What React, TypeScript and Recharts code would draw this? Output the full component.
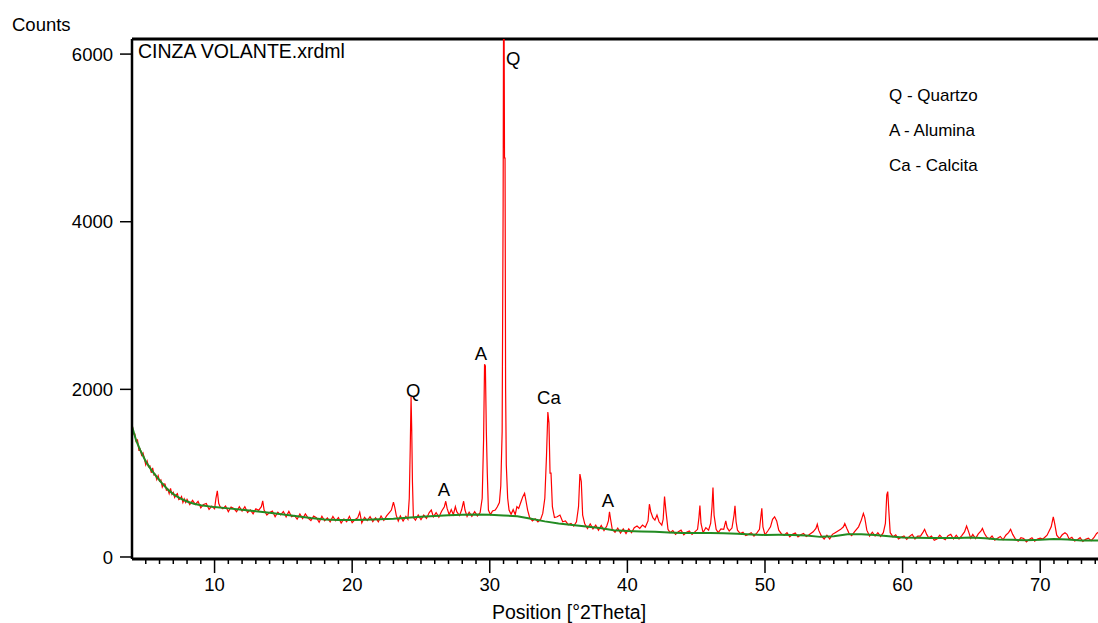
import React from 'react';
import { LineChart, Line, XAxis, YAxis, ReferenceLine, ReferenceDot } from 'recharts';

const FONT = '"Liberation Sans", Arial, sans-serif';

// measured scan, [°2Theta, counts]
const observedScan: [number, number][] = [
    [4.0, 1600], [4.1, 1470], [4.2, 1470], [4.3, 1380], [4.4, 1395], [4.5, 1275], [4.6, 1285], [4.7, 1215],
    [4.8, 1240], [4.9, 1175], [5.0, 1100], [5.1, 1145], [5.2, 1075], [5.3, 1085], [5.4, 1005], [5.5, 1063],
    [5.6, 977], [5.7, 986], [5.8, 925], [5.9, 970], [6.0, 905], [6.1, 920], [6.2, 835], [6.3, 872],
    [6.4, 870], [6.5, 797], [6.6, 810], [6.7, 756], [6.8, 817], [6.9, 748], [7.0, 770], [7.1, 710],
    [7.2, 740], [7.3, 755], [7.4, 685], [7.5, 695], [7.6, 722], [7.7, 650], [7.8, 692], [7.9, 650],
    [8.0, 687], [8.2, 625], [8.4, 675], [8.6, 627], [8.8, 665], [9.0, 587], [9.2, 627], [9.4, 638],
    [9.6, 568], [9.8, 608], [10.0, 575], [10.1, 700], [10.2, 790], [10.3, 640], [10.4, 600], [10.6, 576],
    [10.8, 608], [11.0, 540], [11.2, 597], [11.4, 578], [11.6, 540], [11.8, 601], [12.0, 548], [12.2, 599],
    [12.4, 531], [12.6, 562], [12.8, 514], [13.0, 575], [13.2, 556], [13.4, 600], [13.5, 670], [13.6, 560],
    [13.8, 501], [14.0, 532], [14.2, 548], [14.4, 479], [14.6, 535], [14.8, 502], [15.0, 543], [15.2, 479],
    [15.4, 544], [15.6, 480], [15.8, 495], [16.0, 451], [16.2, 512], [16.4, 458], [16.6, 513], [16.8, 464],
    [17.0, 435], [17.2, 487], [17.4, 468], [17.6, 415], [17.8, 486], [18.0, 433], [18.2, 466], [18.4, 420],
    [18.6, 483], [18.8, 432], [19.0, 470], [19.2, 405], [19.4, 455], [19.6, 420], [19.8, 485], [20.0, 410],
    [20.2, 446], [20.4, 467], [20.55, 535], [20.7, 408], [20.9, 474], [21.1, 435], [21.3, 481], [21.5, 422],
    [21.7, 468], [21.9, 419], [22.1, 490], [22.3, 436], [22.5, 490], [22.7, 530], [22.85, 560], [23.0, 655],
    [23.1, 590], [23.2, 500], [23.35, 430], [23.5, 490], [23.7, 430], [23.9, 485], [24.05, 450], [24.15, 700],
    [24.22, 1300], [24.28, 1910], [24.33, 1500], [24.38, 900], [24.45, 470], [24.6, 440], [24.8, 500], [25.0, 445],
    [25.2, 500], [25.4, 460], [25.6, 530], [25.75, 560], [25.9, 480], [26.1, 530], [26.3, 475], [26.5, 545],
    [26.7, 600], [26.8, 665], [26.9, 580], [27.05, 505], [27.2, 565], [27.35, 505], [27.5, 600], [27.6, 540],
    [27.8, 495], [27.95, 560], [28.1, 665], [28.2, 560], [28.35, 485], [28.5, 535], [28.7, 485], [28.9, 540],
    [29.1, 490], [29.3, 530], [29.45, 700], [29.55, 1400], [29.62, 2300], [29.68, 2280], [29.75, 1500], [29.82, 1000],
    [29.9, 560], [30.05, 505], [30.2, 550], [30.4, 560], [30.55, 600], [30.7, 650], [30.8, 850], [30.9, 1500],
    [30.97, 4200], [31.0, 6400], [31.04, 6400], [31.07, 4760], [31.11, 4760], [31.15, 2000], [31.2, 1100], [31.3, 700],
    [31.4, 560], [31.55, 510], [31.7, 565], [31.85, 505], [31.97, 600], [32.1, 580], [32.25, 650], [32.4, 720],
    [32.53, 760], [32.62, 680], [32.75, 560], [32.9, 470], [33.1, 430], [33.3, 455], [33.5, 420], [33.7, 450],
    [33.85, 520], [34.0, 700], [34.12, 1200], [34.22, 1730], [34.3, 1600], [34.38, 1000], [34.45, 1000], [34.55, 600],
    [34.7, 470], [34.9, 480], [35.1, 500], [35.3, 420], [35.5, 430], [35.7, 385], [35.9, 400], [36.1, 370],
    [36.3, 420], [36.45, 600], [36.55, 990], [36.65, 900], [36.75, 500], [36.9, 395], [37.1, 340], [37.3, 395],
    [37.5, 335], [37.7, 380], [37.9, 320], [38.1, 375], [38.3, 315], [38.5, 370], [38.62, 430], [38.7, 540],
    [38.78, 450], [38.9, 330], [39.1, 295], [39.3, 345], [39.5, 285], [39.7, 335], [39.9, 280], [40.1, 335],
    [40.3, 290], [40.5, 350], [40.7, 370], [40.9, 340], [41.1, 380], [41.3, 355], [41.5, 430], [41.6, 630],
    [41.7, 540], [41.85, 470], [42.0, 440], [42.15, 500], [42.3, 420], [42.5, 380], [42.6, 450], [42.7, 720],
    [42.8, 550], [42.95, 330], [43.1, 290], [43.3, 315], [43.5, 270], [43.7, 300], [43.9, 320], [44.1, 265],
    [44.3, 295], [44.5, 310], [44.7, 270], [44.9, 300], [45.1, 330], [45.2, 470], [45.27, 615], [45.35, 400],
    [45.5, 290], [45.7, 350], [45.9, 320], [46.05, 400], [46.15, 600], [46.22, 830], [46.3, 500], [46.45, 330],
    [46.6, 290], [46.8, 335], [47.0, 330], [47.15, 430], [47.25, 350], [47.4, 310], [47.6, 345], [47.75, 500],
    [47.82, 610], [47.9, 420], [48.0, 320], [48.2, 280], [48.4, 295], [48.6, 255], [48.8, 270], [49.0, 290],
    [49.2, 250], [49.4, 285], [49.6, 330], [49.7, 480], [49.77, 580], [49.85, 360], [50.0, 265], [50.2, 310],
    [50.4, 360], [50.55, 450], [50.7, 480], [50.85, 430], [51.0, 320], [51.2, 275], [51.4, 260], [51.6, 290],
    [51.8, 240], [52.0, 270], [52.2, 285], [52.4, 240], [52.6, 265], [52.8, 280], [53.0, 245], [53.2, 265],
    [53.5, 300], [53.7, 340], [53.8, 390], [53.9, 320], [54.1, 250], [54.3, 215], [54.5, 260], [54.7, 215],
    [54.9, 270], [55.1, 290], [55.3, 310], [55.5, 330], [55.7, 360], [55.8, 400], [55.95, 340], [56.1, 285],
    [56.3, 255], [56.5, 300], [56.8, 360], [57.0, 440], [57.15, 520], [57.25, 470], [57.4, 320], [57.6, 250],
    [57.8, 295], [58.0, 250], [58.2, 290], [58.4, 245], [58.6, 290], [58.75, 400], [58.85, 740], [58.92, 780],
    [59.0, 550], [59.1, 290], [59.3, 240], [59.5, 265], [59.7, 215], [59.9, 235], [60.1, 250], [60.3, 210],
    [60.5, 245], [60.7, 270], [60.9, 215], [61.1, 250], [61.3, 250], [61.5, 300], [61.6, 330], [61.75, 270],
    [61.9, 230], [62.1, 250], [62.3, 200], [62.5, 215], [62.7, 260], [62.9, 225], [63.1, 205], [63.3, 255],
    [63.5, 270], [63.7, 215], [63.9, 260], [64.1, 215], [64.3, 255], [64.5, 300], [64.65, 370], [64.8, 300],
    [64.95, 225], [65.1, 270], [65.3, 220], [65.5, 275], [65.7, 310], [65.8, 340], [65.95, 280], [66.1, 240],
    [66.3, 215], [66.5, 250], [66.7, 200], [66.9, 225], [67.1, 245], [67.3, 205], [67.5, 260], [67.7, 290],
    [67.85, 330], [68.0, 270], [68.2, 215], [68.4, 190], [68.6, 230], [68.8, 220], [69.0, 180], [69.2, 210],
    [69.4, 230], [69.6, 190], [69.8, 215], [70.0, 225], [70.2, 215], [70.5, 260], [70.8, 360], [70.95, 480],
    [71.05, 400], [71.2, 260], [71.4, 220], [71.6, 265], [71.8, 290], [71.95, 270], [72.1, 215], [72.3, 235],
    [72.5, 190], [72.7, 205], [72.9, 230], [73.1, 185], [73.3, 210], [73.5, 225], [73.7, 195], [73.9, 230],
    [74.1, 280], [74.25, 300],
];

// fitted background, [°2Theta, counts]
const backgroundCurve: [number, number][] = [
    [4.0, 1560], [4.3, 1390], [4.6, 1275], [5.0, 1140], [5.4, 1040], [5.8, 955], [6.2, 875], [6.6, 805],
    [7.0, 750], [7.5, 700], [8.0, 662], [8.5, 635], [9.0, 617], [10, 595], [11, 580], [12, 563],
    [13, 545], [14, 527], [15, 508], [16, 486], [17, 465], [18, 448], [19, 440], [20, 440],
    [21, 445], [22, 450], [23, 457], [24, 468], [25, 480], [26, 490], [27, 497], [28, 503],
    [29, 506], [30, 505], [31, 496], [32, 485], [33, 455], [34, 425], [35, 400], [36, 382],
    [37, 365], [38, 345], [39, 320], [40, 310], [41, 305], [42, 300], [43, 292], [44, 287],
    [45, 285], [46, 285], [47, 284], [48, 276], [49, 268], [50, 263], [51, 264], [52, 262],
    [53, 255], [54, 240], [55, 248], [56, 270], [57, 272], [58, 262], [59, 248], [60, 232],
    [61, 230], [62, 226], [63, 226], [64, 228], [65, 232], [66, 225], [67, 210], [68, 205],
    [69, 200], [70, 205], [71, 215], [72, 210], [73, 198], [74, 198], [74.3, 198],
];

// one tick per degree; every tenth one is labelled
const xTicks = [
    5, 6, 7, 8, 9, 10, 11, 12, 13, 14, 15, 16, 17, 18, 19, 20, 21, 22, 23, 24, 25, 26, 27, 28, 29, 30,
    31, 32, 33, 34, 35, 36, 37, 38, 39, 40, 41, 42, 43, 44, 45, 46, 47, 48, 49, 50, 51, 52, 53, 54,
    55, 56, 57, 58, 59, 60, 61, 62, 63, 64, 65, 66, 67, 68, 69, 70, 71, 72, 73, 74,
];
const yTicks = [0, 2000, 4000, 6000];

// phase marks above the peaks
const peakLabels = [
    { text: 'Q', theta: 24.44, counts: 1990 },
    { text: 'A', theta: 26.67, counts: 810 },
    { text: 'A', theta: 29.36, counts: 2430 },
    { text: 'Q', theta: 31.71, counts: 5950 },
    { text: 'Ca', theta: 34.3, counts: 1900 },
    { text: 'A', theta: 38.59, counts: 675 },
];

const phaseLegend = ['Q - Quartzo', 'A - Alumina', 'Ca - Calcita'];
const scanName = 'CINZA VOLANTE.xrdml';

const X_DOMAIN: [number, number] = [4, 74.2];
const Y_DOMAIN: [number, number] = [-24, 6180];

const observedData = observedScan.map(([theta, counts]) => ({ theta, counts }));
const backgroundData = backgroundCurve.map(([theta, counts]) => ({ theta, counts }));

const textStyle = { fontFamily: FONT, fill: '#000' };

const ThetaTick = (props: any) => {
    const { x, y, payload } = props;
    const major = payload.value % 10 === 0;
    return (
        <g>
            <line x1={x} x2={x} y1={y} y2={y + (major ? 14 : 5)} stroke="#000" strokeWidth={1.5} />
            {major && (
                <text x={x} y={y + 32} textAnchor="middle" fontSize={18.5} style={textStyle}>
                    {payload.value}
                </text>
            )}
        </g>
    );
};

export default function App() {
    return (
        <div style={{ position: 'absolute', left: 0, top: 0, width: 1098, height: 623, background: '#fff', overflow: 'hidden' }}>
            <LineChart width={1098} height={623} margin={{ top: 39, right: 0, bottom: 4, left: 72 }}>
                <XAxis
                    dataKey="theta"
                    type="number"
                    domain={X_DOMAIN}
                    allowDataOverflow
                    ticks={xTicks}
                    interval={0}
                    height={60}
                    tickSize={0}
                    tickMargin={0}
                    tickLine={false}
                    axisLine={{ stroke: '#000', strokeWidth: 3 }}
                    tick={<ThetaTick />}
                />
                <YAxis
                    type="number"
                    domain={Y_DOMAIN}
                    allowDataOverflow
                    ticks={yTicks}
                    interval={0}
                    width={60}
                    tickSize={12}
                    tickMargin={7}
                    axisLine={{ stroke: '#000', strokeWidth: 2.5 }}
                    tickLine={{ stroke: '#000', strokeWidth: 1.5 }}
                    tick={{ fontSize: 18.5, ...textStyle }}
                />
                <ReferenceLine y={Y_DOMAIN[1]} stroke="#000" strokeWidth={3} />
                <Line
                    data={observedData}
                    dataKey="counts"
                    stroke="#ff0000"
                    strokeWidth={1.2}
                    dot={false}
                    isAnimationActive={false}
                />
                <Line
                    data={backgroundData}
                    dataKey="counts"
                    stroke="#228b22"
                    strokeWidth={2}
                    dot={false}
                    isAnimationActive={false}
                />
                {peakLabels.map((p, i) => (
                    <ReferenceDot
                        key={i}
                        x={p.theta}
                        y={p.counts}
                        r={0}
                        fill="none"
                        stroke="none"
                        label={{ value: p.text, position: 'center', fontSize: 18.5, ...textStyle }}
                    />
                ))}
                <text x={12} y={31} fontSize={18.5} style={textStyle}>Counts</text>
                <text x={138} y={58} fontSize={19.5} style={textStyle}>{scanName}</text>
                {phaseLegend.map((t, i) => (
                    <text key={t} x={889} y={101 + i * 35} fontSize={17} style={textStyle}>{t}</text>
                ))}
                <text x={569} y={619} fontSize={19.5} textAnchor="middle" style={textStyle}>Position [°2Theta]</text>
            </LineChart>
        </div>
    );
}
